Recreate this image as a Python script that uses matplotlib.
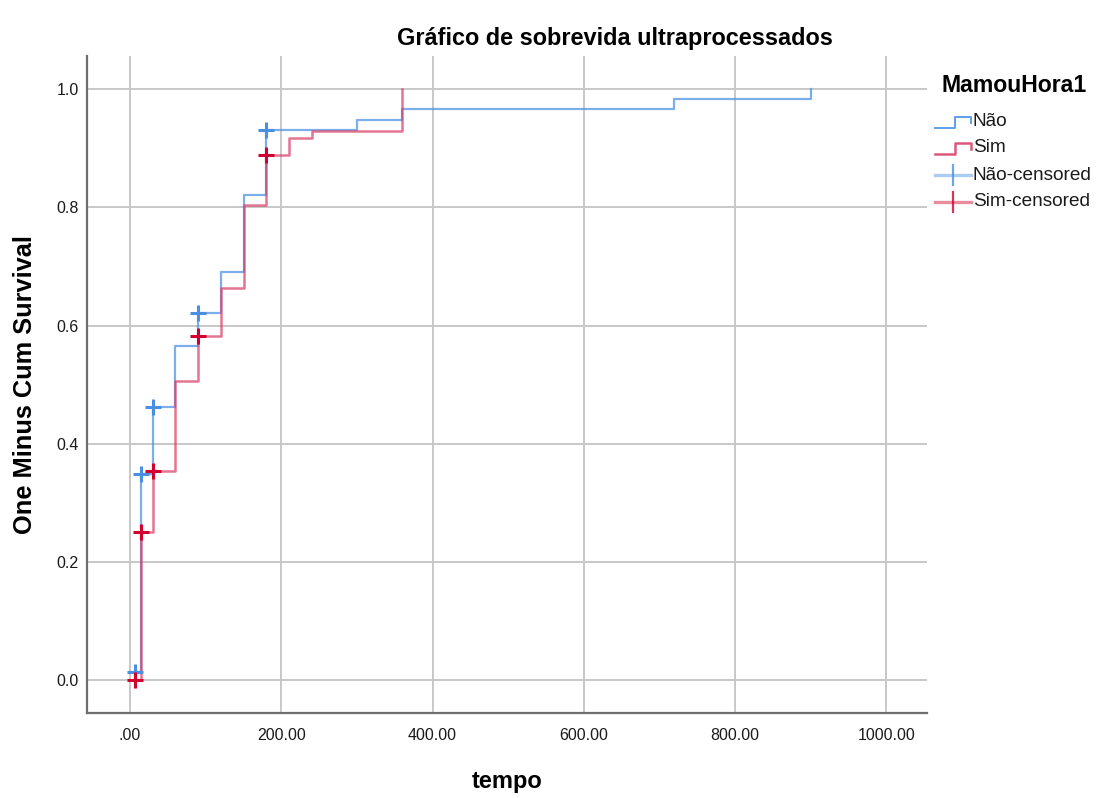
import matplotlib
matplotlib.use("Agg")
import matplotlib.pyplot as plt
from matplotlib.lines import Line2D

plt.rcParams['font.family'] = ['Liberation Sans', 'DejaVu Sans']

# ---- data ----
nao_times = [0, 14, 30, 60, 90, 120, 150, 180, 300, 360, 720, 900]
nao_values = [0.014, 0.349, 0.463, 0.565, 0.621, 0.690, 0.821, 0.931, 0.948, 0.967, 0.983, 1.0]
sim_times = [0, 14, 30, 60, 90, 120, 150, 180, 210, 240, 360]
sim_values = [0.0, 0.250, 0.354, 0.507, 0.582, 0.664, 0.804, 0.888, 0.918, 0.929, 1.0]
nao_cens_times = [7, 14, 30, 90, 180]
nao_cens_values = [0.014, 0.349, 0.463, 0.621, 0.931]
sim_cens_times = [7, 14, 30, 90, 180]
sim_cens_values = [0.0, 0.250, 0.354, 0.582, 0.888]

x_ticks = [0, 200, 400, 600, 800, 1000]
x_tick_labels = ['.00', '200.00', '400.00', '600.00', '800.00', '1000.00']
y_ticks = [0.0, 0.2, 0.4, 0.6, 0.8, 1.0]
y_tick_labels = ['0.0', '0.2', '0.4', '0.6', '0.8', '1.0']

title = 'Gráfico de sobrevida ultraprocessados'
x_label = 'tempo'
y_label = 'One Minus Cum Survival'
legend_title = 'MamouHora1'
legend_labels = ['Não', 'Sim', 'Não-censored', 'Sim-censored']

# ---- styles ----
BLUE_LINE = '#4f93e4'
RED_LINE = '#d93a63'
BLUE_MARK = '#4a8fe0'
RED_MARK = '#d1002e'

W, H = 1100, 798
fig = plt.figure(figsize=(W / 100, H / 100), dpi=100)
ax = fig.add_axes([87 / W, 1 - 713 / H, (927 - 87) / W, (713 - 56) / H])

ax.set_xlim(-57, 1054)
ax.set_ylim(-0.0555, 1.056)

ax.set_xticks(x_ticks)
ax.set_xticklabels(x_tick_labels)
ax.set_yticks(y_ticks)
ax.set_yticklabels(y_tick_labels)
ax.tick_params(length=0, labelsize=11.5, labelcolor='#1a1a1a')
ax.tick_params(axis='x', pad=11)
ax.tick_params(axis='y', pad=6)

ax.grid(True, color='#c8c8c8', linewidth=1.4)
ax.set_axisbelow(True)
for s in ['top', 'right']:
    ax.spines[s].set_visible(False)
for s in ['left', 'bottom']:
    ax.spines[s].set_color('#6e6e6e')
    ax.spines[s].set_linewidth(1.6)

ax.step(nao_times, nao_values, where='post', color=BLUE_LINE, linewidth=1.6, alpha=0.75, zorder=3)
ax.step(sim_times, sim_values, where='post', color=RED_LINE, linewidth=1.8, alpha=0.7, zorder=3)
ax.plot(nao_cens_times, nao_cens_values, linestyle='none', marker='+', markersize=12,
        markeredgewidth=2.2, color=BLUE_MARK, zorder=4)
ax.plot(sim_cens_times, sim_cens_values, linestyle='none', marker='+', markersize=12,
        markeredgewidth=2.2, color=RED_MARK, zorder=4)

ax.set_xlabel(x_label, fontsize=17, fontweight='bold', labelpad=19)
ax.set_ylabel(y_label, fontsize=18.3, fontweight='bold', labelpad=14)

fig.text(615 / W, 1 - 39 / H, title, fontsize=16.9, fontweight='bold', ha='center', va='center')

# ---- legend drawn at the right side ----
def fx(px):
    return px / W

def fy(py):
    return 1 - py / H

fig.text(fx(1014), fy(85), legend_title, fontsize=16.6, fontweight='bold', ha='center', va='center')
rows = [122, 148, 175, 202]
# step-shaped handles for the lines
for (y, col, lw, a) in [(rows[0], BLUE_LINE, 1.4, 0.9), (rows[1], RED_LINE, 1.8, 0.85)]:
    xs = [935, 955, 955, 971, 971]
    ys = [y + 6, y + 6, y - 5, y - 5, y + 1]
    fig.add_artist(Line2D([fx(v) for v in xs], [fy(v) for v in ys], color=col,
                          linewidth=lw, alpha=a, transform=fig.transFigure))
# censored handles
for (y, col) in [(rows[2], BLUE_MARK), (rows[3], RED_MARK)]:
    fig.add_artist(Line2D([fx(935), fx(971)], [fy(y), fy(y)], color=col, linewidth=2.4,
                          alpha=0.45, transform=fig.transFigure))
    fig.add_artist(Line2D([fx(953), fx(953)], [fy(y - 10), fy(y + 10)], color=col, linewidth=1.6,
                          alpha=0.8, transform=fig.transFigure))
for y, lab in zip(rows, legend_labels):
    fig.text(fx(973), fy(y), lab, fontsize=13.7, ha='left', va='center', color='#1a1a1a')

fig.savefig('out.png', dpi=100)
